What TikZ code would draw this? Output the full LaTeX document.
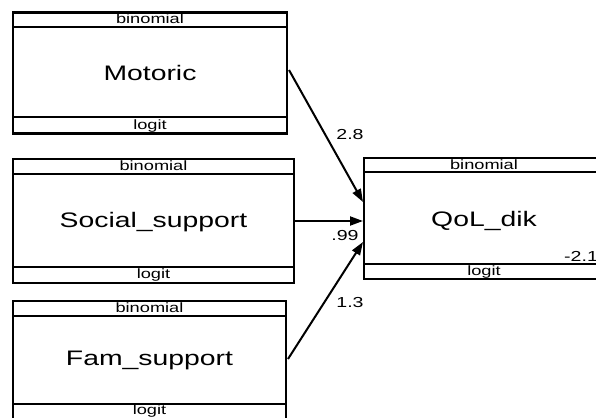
\documentclass[tikz,border=0pt]{standalone}
\usepackage{fontspec}
\setmainfont[FakeStretch=1.35]{Liberation Sans}
\usetikzlibrary{arrows.meta}
\begin{document}
\begin{tikzpicture}[x=1pt,y=-1pt,
  varbox/.style={draw,line width=2.8pt,rectangle,inner sep=0pt},
  divider/.style={line width=2.2pt},
  mainlab/.style={font=\fontsize{21}{24}\selectfont,inner sep=0pt},
  smalllab/.style={font=\fontsize{13.5}{14}\selectfont,inner sep=0pt},
  coef/.style={font=\fontsize{14.5}{16}\selectfont,inner sep=0pt},
  path/.style={line width=2pt,-{Triangle[length=13pt,width=9pt]}}]
\useasboundingbox (0,0) rectangle (596,417);
% Motoric
\node[varbox,minimum width=274pt,minimum height=121pt] (mot) at (150,73) {};
\draw[divider] (13,27) -- (287,27);
\draw[divider] (13,117) -- (287,117);
\node[smalllab] (motb) at (150,19) {binomial};
\node[mainlab] (motl) at (150,73) {Motoric};
\node[smalllab] (motf) at (150,126) {logit};
% Social support
\node[varbox,minimum width=281pt,minimum height=124pt] (soc) at (153.5,221) {};
\draw[divider] (13,174) -- (294,174);
\draw[divider] (13,267) -- (294,267);
\node[smalllab] (socb) at (153.5,166) {binomial};
\node[mainlab] (socl) at (153.5,222) {Social\_support};
\node[smalllab] (socf) at (153.5,275) {logit};
% Fam support
\node[varbox,minimum width=273pt,minimum height=130pt] (fam) at (149.5,366) {};
\draw[divider] (13,316) -- (286,316);
\draw[divider] (13,404) -- (286,404);
\node[smalllab] (famb) at (149.5,308) {binomial};
\node[mainlab] (faml) at (149.5,360) {Fam\_support};
\node[smalllab] (famf) at (149.5,411) {logit};
% QoL
\node[varbox,minimum width=240pt,minimum height=121pt] (qol) at (484,218.5) {};
\draw[divider] (364,172) -- (604,172);
\draw[divider] (364,264) -- (604,264);
\node[smalllab] (qolb) at (484,165) {binomial};
\node[mainlab] (qoll) at (484,221) {QoL\_dik};
\node[smalllab] (qolf) at (484,272) {logit};
\node[coef,anchor=west] (qolc) at (564,256) {-2.1};
% paths
\coordinate (t1) at (363,202);
\coordinate (t2) at (363,221);
\coordinate (t3) at (363,242);
\coordinate (s1) at (289,70);
\coordinate (s2) at (295,221);
\coordinate (s3) at (288,359);
\draw[path] (s1) -- (t1);
\draw[path] (s2) -- (t2);
\draw[path] (s3) -- (t3);
\node[coef] (c1) at (350,135) {2.8};
\node[coef] (c2) at (345,236) {.99};
\node[coef] (c3) at (350,303) {1.3};
\end{tikzpicture}
\end{document}
